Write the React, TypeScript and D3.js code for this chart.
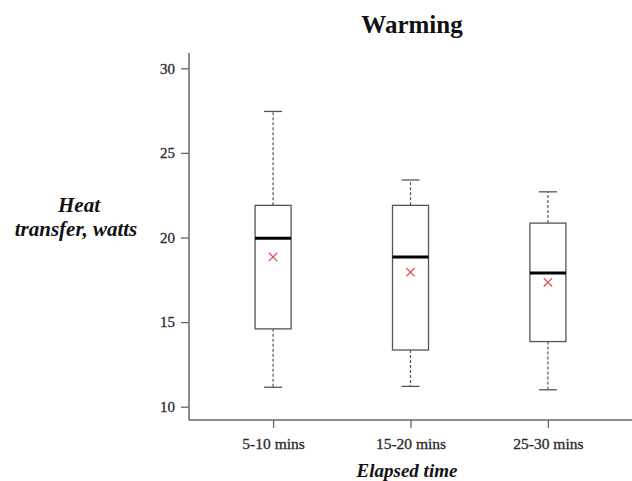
import React, { useEffect, useRef } from 'react';
import * as d3 from 'd3';

const categories = ['5-10 mins', '15-20 mins', '25-30 mins'];
const whiskerLow = [11.15, 11.2, 11.0];
const q1 = [14.6, 13.35, 13.85];
const median = [19.95, 18.85, 17.9];
const q3 = [21.9, 21.9, 20.85];
const whiskerHigh = [27.45, 23.4, 22.7];
const means = [18.85, 17.95, 17.35];
const yTicks = [10, 15, 20, 25, 30];

export default function App() {
  const svgRef = useRef<SVGSVGElement>(null);

  useEffect(() => {
    if (!svgRef.current) return;
    const svg = d3.select(svgRef.current);
    svg.selectAll('*').remove();

    const width = 632;
    const axisX = 189;
    const axisY = 420;
    const font = '"Liberation Serif", "Times New Roman", serif';
    const axisColor = '#6e6562';

    const x = d3.scalePoint<string>().domain(categories).range([axisX, width]).padding(0.612);
    const y = d3.scaleLinear().domain([10, 30]).range([406.7, 68.3]);

    const boxW = 36;
    const capW = 18;

    // Title
    svg.append('text')
      .attr('x', 412)
      .attr('y', 33)
      .attr('text-anchor', 'middle')
      .attr('font-family', font)
      .attr('font-weight', 'bold')
      .attr('font-size', 25)
      .attr('fill', '#111')
      .text('Warming');

    // Y axis label (two lines)
    const ylab = svg.append('text')
      .attr('text-anchor', 'middle')
      .attr('font-family', font)
      .attr('font-weight', 'bold')
      .attr('font-style', 'italic')
      .attr('font-size', 21)
      .attr('fill', '#111');
    ylab.append('tspan').attr('x', 79).attr('y', 212).text('Heat');
    ylab.append('tspan').attr('x', 76).attr('y', 236).text('transfer, watts');

    // X axis label
    svg.append('text')
      .attr('x', 407)
      .attr('y', 477)
      .attr('text-anchor', 'middle')
      .attr('font-family', font)
      .attr('font-weight', 'bold')
      .attr('font-style', 'italic')
      .attr('font-size', 19)
      .attr('fill', '#111')
      .text('Elapsed time');

    // Axis lines
    svg.append('line')
      .attr('x1', axisX).attr('x2', axisX)
      .attr('y1', 53).attr('y2', axisY)
      .attr('stroke', axisColor).attr('stroke-width', 1.5);
    svg.append('line')
      .attr('x1', axisX).attr('x2', width)
      .attr('y1', axisY).attr('y2', axisY)
      .attr('stroke', axisColor).attr('stroke-width', 1.5);

    // Y ticks
    const yAxis = svg.append('g')
      .attr('transform', `translate(${axisX},0)`)
      .call(d3.axisLeft(y).tickValues(yTicks).tickSize(8).tickSizeOuter(0).tickPadding(6));
    yAxis.select('.domain').remove();
    yAxis.selectAll('line').attr('stroke', axisColor).attr('stroke-width', 1.3);
    yAxis.selectAll('text')
      .attr('font-family', font)
      .attr('font-size', 15)
      .attr('fill', '#2a2a2a')
      .attr('stroke', '#2a2a2a')
      .attr('stroke-width', 0.3);

    // X ticks
    const xAxis = svg.append('g')
      .attr('transform', `translate(0,${axisY})`)
      .call(d3.axisBottom(x).tickSize(8).tickSizeOuter(0).tickPadding(10));
    xAxis.select('.domain').remove();
    xAxis.selectAll('line').attr('stroke', axisColor).attr('stroke-width', 1.3);
    xAxis.selectAll('text')
      .attr('font-family', font)
      .attr('font-size', 15.5)
      .attr('fill', '#2a2a2a')
      .attr('stroke', '#2a2a2a')
      .attr('stroke-width', 0.3);

    const boxes = svg.append('g');
    categories.forEach((c, i) => {
      const cx = x(c)!;
      const g = boxes.append('g');
      // whiskers
      g.append('line')
        .attr('x1', cx).attr('x2', cx)
        .attr('y1', y(q3[i])).attr('y2', y(whiskerHigh[i]))
        .attr('stroke', '#555').attr('stroke-width', 1.2).attr('stroke-dasharray', '3,2');
      g.append('line')
        .attr('x1', cx).attr('x2', cx)
        .attr('y1', y(q1[i])).attr('y2', y(whiskerLow[i]))
        .attr('stroke', '#555').attr('stroke-width', 1.2).attr('stroke-dasharray', '3,2');
      // caps
      [whiskerHigh[i], whiskerLow[i]].forEach(v => {
        g.append('line')
          .attr('x1', cx - capW / 2).attr('x2', cx + capW / 2)
          .attr('y1', y(v)).attr('y2', y(v))
          .attr('stroke', '#555').attr('stroke-width', 1.3);
      });
      // box
      g.append('rect')
        .attr('x', cx - boxW / 2)
        .attr('y', y(q3[i]))
        .attr('width', boxW)
        .attr('height', y(q1[i]) - y(q3[i]))
        .attr('fill', 'white')
        .attr('stroke', '#555')
        .attr('stroke-width', 1.3);
      // median
      g.append('line')
        .attr('x1', cx - boxW / 2).attr('x2', cx + boxW / 2)
        .attr('y1', y(median[i])).attr('y2', y(median[i]))
        .attr('stroke', '#000').attr('stroke-width', 3);
      // mean cross
      const my = y(means[i]);
      const s = 4.2;
      g.append('path')
        .attr('d', `M${cx - s},${my - s}L${cx + s},${my + s}M${cx - s},${my + s}L${cx + s},${my - s}`)
        .attr('stroke', '#d9534f')
        .attr('stroke-width', 1.3)
        .attr('fill', 'none');
    });
  }, []);

  return (
    <div style={{ position: 'absolute', left: 0, top: 0, width: 632, height: 481, background: 'white' }}>
      <svg ref={svgRef} width={632} height={481}></svg>
    </div>
  );
}
